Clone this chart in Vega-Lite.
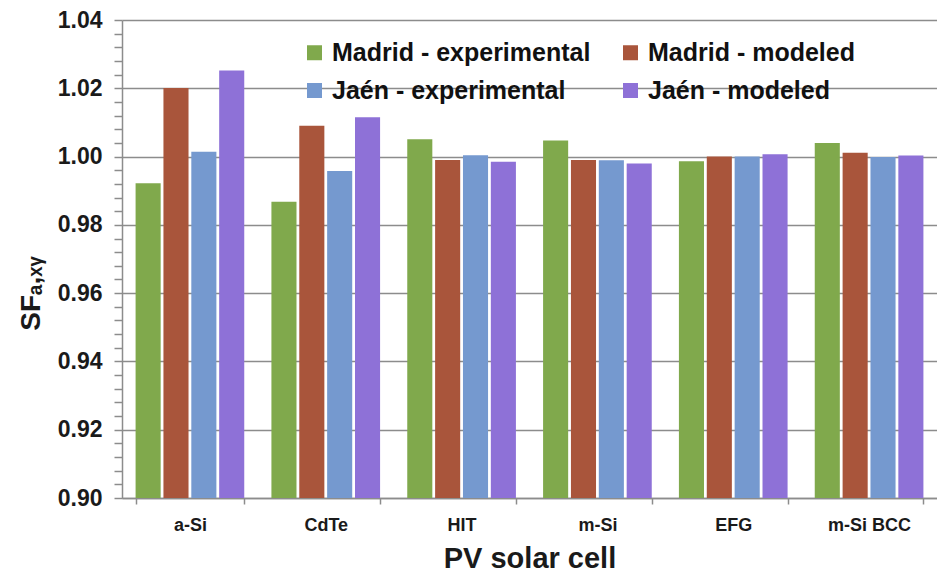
{
  "$schema": "https://vega.github.io/schema/vega-lite/v6.json",
  "width": 815,
  "height": 478,
  "autosize": {"type": "none"},
  "padding": {"left": 122, "top": 20, "right": 0, "bottom": 78},
  "background": "white",
  "config": {
    "view": {"stroke": null},
    "font": "Liberation Sans"
  },
  "data": {
    "values": [
      {"cell": "a-Si", "series": "Madrid - experimental", "sf": 0.9922},
      {"cell": "a-Si", "series": "Madrid - modeled", "sf": 1.0201},
      {"cell": "a-Si", "series": "Jaén - experimental", "sf": 1.0014},
      {"cell": "a-Si", "series": "Jaén - modeled", "sf": 1.0252},
      {"cell": "CdTe", "series": "Madrid - experimental", "sf": 0.9868},
      {"cell": "CdTe", "series": "Madrid - modeled", "sf": 1.0090},
      {"cell": "CdTe", "series": "Jaén - experimental", "sf": 0.9958},
      {"cell": "CdTe", "series": "Jaén - modeled", "sf": 1.0115},
      {"cell": "HIT", "series": "Madrid - experimental", "sf": 1.0051},
      {"cell": "HIT", "series": "Madrid - modeled", "sf": 0.9990},
      {"cell": "HIT", "series": "Jaén - experimental", "sf": 1.0004},
      {"cell": "HIT", "series": "Jaén - modeled", "sf": 0.9985},
      {"cell": "m-Si", "series": "Madrid - experimental", "sf": 1.0047},
      {"cell": "m-Si", "series": "Madrid - modeled", "sf": 0.9990},
      {"cell": "m-Si", "series": "Jaén - experimental", "sf": 0.9989},
      {"cell": "m-Si", "series": "Jaén - modeled", "sf": 0.9980},
      {"cell": "EFG", "series": "Madrid - experimental", "sf": 0.9986},
      {"cell": "EFG", "series": "Madrid - modeled", "sf": 1.0000},
      {"cell": "EFG", "series": "Jaén - experimental", "sf": 1.0000},
      {"cell": "EFG", "series": "Jaén - modeled", "sf": 1.0007},
      {"cell": "m-Si BCC", "series": "Madrid - experimental", "sf": 1.0040},
      {"cell": "m-Si BCC", "series": "Madrid - modeled", "sf": 1.0011},
      {"cell": "m-Si BCC", "series": "Jaén - experimental", "sf": 0.9999},
      {"cell": "m-Si BCC", "series": "Jaén - modeled", "sf": 1.0003}
    ]
  },
  "mark": {"type": "bar"},
  "encoding": {
    "x": {
      "field": "cell",
      "type": "nominal",
      "sort": ["a-Si", "CdTe", "HIT", "m-Si", "EFG", "m-Si BCC"],
      "scale": {"paddingInner": 0.2, "paddingOuter": 0.1},
      "axis": {
        "title": "PV solar cell",
        "labelAngle": 0,
        "tickBand": "extent",
        "tickSize": 6,
        "tickColor": "#8c8c8c",
        "tickWidth": 1.5,
        "domainColor": "#8c8c8c",
        "domainWidth": 1.5,
        "labelFont": "Liberation Sans",
        "labelFontSize": 18,
        "labelFontWeight": "bold",
        "labelColor": "#1a1a1a",
        "labelPadding": 12,
        "titleFont": "Liberation Sans",
        "titleFontSize": 29,
        "titleFontWeight": "bold",
        "titleColor": "#1a1a1a",
        "titlePadding": 10
      }
    },
    "xOffset": {
      "field": "series",
      "type": "nominal",
      "sort": ["Madrid - experimental", "Madrid - modeled", "Jaén - experimental", "Jaén - modeled"],
      "scale": {"paddingInner": 0.1}
    },
    "y": {
      "field": "sf",
      "type": "quantitative",
      "scale": {"domain": [0.9, 1.04], "zero": false, "nice": false},
      "axis": {
        "title": "SFₐ,ₓᵧ",
        "titleY": 273,
        "titleAlign": "center",
        "values": [0.9, 0.904, 0.908, 0.912, 0.916, 0.92, 0.924, 0.928, 0.932, 0.936, 0.94, 0.944, 0.948, 0.952, 0.956, 0.96, 0.964, 0.968, 0.972, 0.976, 0.98, 0.984, 0.988, 0.992, 0.996, 1.0, 1.004, 1.008, 1.012, 1.016, 1.02, 1.024, 1.028, 1.032, 1.036, 1.04],
        "labelExpr": "round(datum.value*1000) % 20 == 0 ? format(datum.value, '.2f') : ''",
        "grid": true,
        "gridColor": "#8c8c8c",
        "gridWidth": 1.5,
        "gridOpacity": {"condition": {"test": "round(datum.value*1000) % 20 == 0", "value": 1}, "value": 0},
        "tickSize": 8,
        "tickColor": "#8c8c8c",
        "tickWidth": 1.5,
        "domainColor": "#8c8c8c",
        "domainWidth": 1.5,
        "labelFont": "Liberation Sans",
        "labelFontSize": 23,
        "labelFontWeight": "bold",
        "labelColor": "#1a1a1a",
        "labelPadding": 12,
        "labelOverlap": false,
        "labelBound": false,
        "labelFlush": false,
        "titleFont": "Liberation Sans",
        "titleFontSize": 28,
        "titleFontWeight": "bold",
        "titleColor": "#1a1a1a",
        "titlePadding": 12
      }
    },
    "y2": {"datum": 0.9},
    "color": {
      "field": "series",
      "type": "nominal",
      "scale": {
        "domain": ["Madrid - experimental", "Jaén - experimental", "Madrid - modeled", "Jaén - modeled"],
        "range": ["#80a94c", "#7599cf", "#a9553b", "#8e71d7"]
      },
      "legend": {
        "title": null,
        "orient": "none",
        "legendX": 180,
        "legendY": 20,
        "columns": 2,
        "columnPadding": 27,
        "rowPadding": 12,
        "symbolType": "square",
        "symbolSize": 225,
        "symbolStrokeWidth": 0,
        "symbolOpacity": 1,
        "labelOffset": 5,
        "labelFont": "Liberation Sans",
        "labelFontSize": 25,
        "labelFontWeight": "bold",
        "labelColor": "#111111",
        "labelLimit": 400
      }
    }
  }
}
